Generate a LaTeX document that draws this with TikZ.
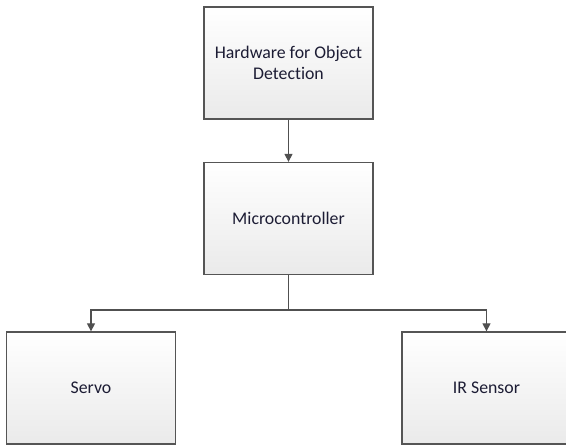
\documentclass[tikz,border=0pt]{standalone}
\usepackage{fontspec}
\setmainfont{Carlito}[Ligatures=NoCommon]
\usetikzlibrary{arrows.meta}
\definecolor{boxline}{RGB}{85,85,85}
\definecolor{boxbot}{RGB}{234,234,234}
\definecolor{txt}{RGB}{28,28,52}
\definecolor{lineclr}{RGB}{80,80,80}
\begin{document}
\begin{tikzpicture}[x=1pt,y=1pt,
  box/.style={draw=boxline, line width=1.3pt, top color=white, bottom color=boxbot,
    minimum width=169pt, minimum height=112pt, inner sep=0pt, align=center,
    font=\fontsize{17.8}{20.5}\selectfont, text=txt},
  conn/.style={draw=lineclr, line width=1.3pt, -{Triangle[length=8pt,width=8pt]}},
  link/.style={draw=lineclr, line width=1.3pt}]
\useasboundingbox (0,0) rectangle (566,445);
\node[box] (hw) at (288.5,382) {Hardware for Object\\Detection};
\node[box] (mc) at (288.5,226.5) {Microcontroller};
\node[box] (servo) at (91,57) {Servo};
\node[box] (ir) at (486.5,57) {IR Sensor};
\coordinate (j) at (288.5,135);
\draw[conn] (hw.south) -- (mc.north);
\draw[link] (mc.south) -- (j);
\draw[conn] (j) -| (servo.north);
\draw[conn] (j) -| (ir.north);
\end{tikzpicture}
\end{document}
